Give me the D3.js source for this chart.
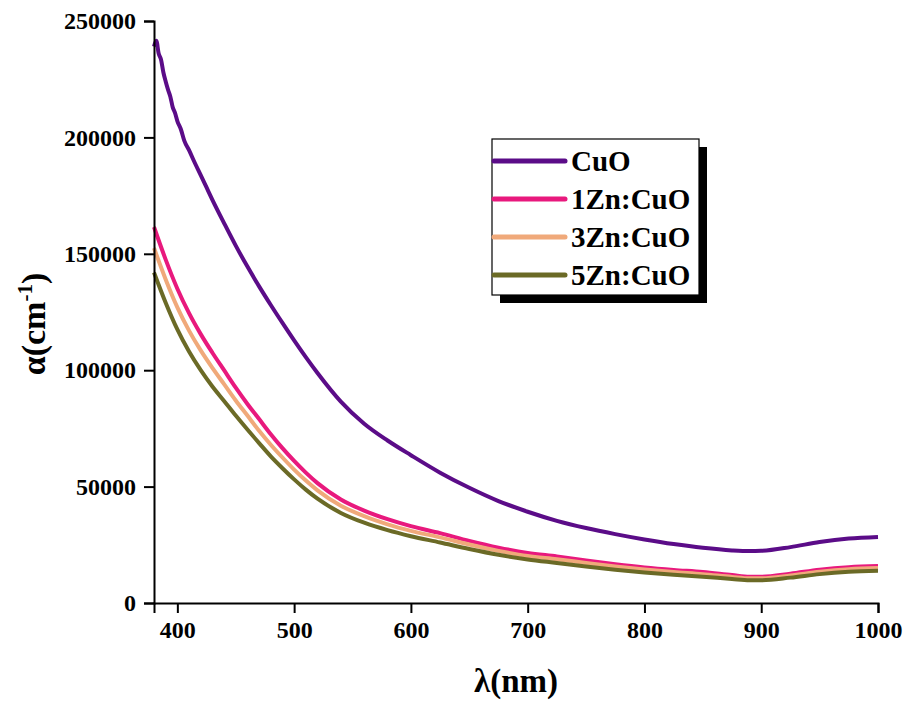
<!DOCTYPE html>
<html>
<head>
<meta charset="utf-8">
<script src="https://cdn.jsdelivr.net/npm/d3@7"></script>
<style>
  body { margin: 0; background: #fff; }
  svg { display: block; }
  text { font-family: "Liberation Serif", "Times New Roman", serif; font-weight: bold; fill: #000; }
</style>
</head>
<body>
<div id="chart"></div>
<script>
// wavelengths (nm) for the CuO spectrum, denser at the noisy start
var cuoWavelengths = [380, 382, 384, 386, 388, 390, 392, 394, 396, 398, 400, 403, 406, 410, 415, 420, 425, 430,
  440, 450, 460, 470, 480, 490, 500, 510, 520, 540, 560, 580, 600, 625, 650, 675, 700, 725, 750, 775, 800,
  825, 850, 875, 890, 900, 925, 950, 975, 1000];
var cuo = [239000, 241500, 236000, 233500, 228000, 224000, 220500, 217500, 213000, 210500, 207000, 203500, 198500,
  194500, 189000, 183800, 178500, 173200, 163200, 153500, 144500, 136000, 128000, 120300, 112800, 105600, 98800,
  86500, 77000, 69800, 63500, 56000, 49500, 43800, 39200, 35300, 32200, 29600, 27300, 25300, 23700, 22600,
  22300, 22400, 24000, 26200, 27700, 28400];

// wavelengths (nm) for the Zn doped samples
var wavelengths = [380, 390, 400, 410, 420, 430, 440, 450, 460, 470, 480, 490, 500, 510, 520, 540, 560, 580, 600,
  625, 650, 675, 700, 725, 750, 775, 800, 825, 850, 875, 890, 900, 925, 950, 975, 1000];
var zn1 = [161500, 147500, 135000, 124500, 115500, 107500, 100000, 92500, 85500, 79000, 72500, 66500, 61000, 56000,
  51500, 44500, 39700, 36000, 33000, 30000, 26700, 23800, 21500, 20000, 18300, 16700, 15300, 14200, 13300, 12000,
  11300, 11300, 12600, 14300, 15400, 15900];
var zn3 = [152500, 139000, 127000, 117000, 108500, 101000, 94000, 87000, 80500, 74000, 68000, 62500, 57300, 52600,
  48400, 41800, 37300, 33800, 31000, 28200, 25100, 22400, 20200, 18800, 17200, 15700, 14400, 13300, 12400, 11200,
  10600, 10600, 11800, 13400, 14500, 15000];
var zn5 = [142000, 129000, 117500, 108000, 100000, 93000, 86800, 80500, 74500, 68700, 63000, 57900, 53100, 48700,
  44800, 38700, 34500, 31300, 28700, 26000, 23200, 20700, 18700, 17200, 15700, 14300, 13100, 12100, 11300, 10300,
  9800, 9800, 10900, 12400, 13400, 13900];

var seriesNames = ["CuO", "1Zn:CuO", "3Zn:CuO", "5Zn:CuO"];
var seriesColors = ["#5b0c88", "#e8197d", "#f0a97a", "#6b6a26"];

var xTicks = [400, 500, 600, 700, 800, 900, 1000];
var yTicks = [0, 50000, 100000, 150000, 200000, 250000];

var width = 905, height = 710;
var margin = { left: 154, right: 27, top: 21, bottom: 107 };

var svg = d3.select("#chart").append("svg")
  .attr("width", width)
  .attr("height", height);

var x = d3.scaleLinear().domain([380, 1000]).range([margin.left, width - margin.right]);
var y = d3.scaleLinear().domain([0, 250000]).range([height - margin.bottom, margin.top]);

var series = [
  { name: seriesNames[0], color: seriesColors[0], xs: cuoWavelengths, ys: cuo },
  { name: seriesNames[1], color: seriesColors[1], xs: wavelengths, ys: zn1 },
  { name: seriesNames[2], color: seriesColors[2], xs: wavelengths, ys: zn3 },
  { name: seriesNames[3], color: seriesColors[3], xs: wavelengths, ys: zn5 }
];

var line = d3.line()
  .x(function(d) { return x(d[0]); })
  .y(function(d) { return y(d[1]); })
  .curve(d3.curveMonotoneX);

svg.append("g")
  .selectAll("path")
  .data(series)
  .enter().append("path")
  .attr("fill", "none")
  .attr("stroke", function(d) { return d.color; })
  .attr("stroke-width", 4)
  .attr("stroke-linejoin", "round")
  .attr("d", function(d) { return line(d.xs.map(function(v, i) { return [v, d.ys[i]]; })); });

// minor ticks first, majors on top
var xAxisG = svg.append("g").attr("transform", "translate(0," + y(0) + ")");
xAxisG.call(d3.axisBottom(x).tickValues(d3.range(450, 1000, 100)).tickSize(5).tickFormat(""));
xAxisG.call(d3.axisBottom(x).tickValues(xTicks).tickSize(10).tickPadding(8).tickFormat(d3.format("d")));

var yAxisG = svg.append("g").attr("transform", "translate(" + x(380) + ",0)");
yAxisG.call(d3.axisLeft(y).tickValues(d3.range(25000, 250000, 50000)).tickSize(5).tickFormat(""));
yAxisG.call(d3.axisLeft(y).tickValues(yTicks).tickSize(10).tickPadding(8).tickFormat(d3.format("d")));

svg.selectAll(".domain").attr("stroke", "#000").attr("stroke-width", 2);
svg.selectAll(".tick line").attr("stroke", "#000").attr("stroke-width", 2);
svg.selectAll(".tick text")
  .style("font-family", '"Liberation Serif", "Times New Roman", serif')
  .style("font-weight", "bold")
  .style("font-size", "24px")
  .attr("fill", "#000");

// axis titles
svg.append("text")
  .attr("x", (x(380) + x(1000)) / 2)
  .attr("y", 692)
  .attr("text-anchor", "middle")
  .style("font-size", "33px")
  .text("\u03bb(nm)");

var yTitle = svg.append("text")
  .attr("transform", "translate(45," + ((y(0) + y(250000)) / 2 + 12) + ") rotate(-90)")
  .attr("text-anchor", "middle")
  .style("font-size", "34px");
yTitle.append("tspan").text("\u03b1(cm");
yTitle.append("tspan").attr("dy", -13).style("font-size", "21px").text("-1");
yTitle.append("tspan").attr("dy", 13).text(")");

// legend with drop shadow
var legend = svg.append("g").attr("transform", "translate(492,139)");
legend.append("rect")
  .attr("x", 8).attr("y", 8)
  .attr("width", 207).attr("height", 156)
  .attr("fill", "#000");
legend.append("rect")
  .attr("width", 207).attr("height", 156)
  .attr("fill", "#fff")
  .attr("stroke", "#000")
  .attr("stroke-width", 1.2);

var item = legend.selectAll("g.item")
  .data(series)
  .enter().append("g")
  .attr("class", "item")
  .attr("transform", function(d, i) { return "translate(0," + (22 + i * 38) + ")"; });

item.append("line")
  .attr("x1", 2).attr("x2", 73)
  .attr("stroke", function(d) { return d.color; })
  .attr("stroke-width", 5)
  .attr("stroke-linecap", "round");

item.append("text")
  .attr("x", 79)
  .attr("dy", "0.35em")
  .style("font-size", "29px")
  .text(function(d) { return d.name; });
</script>
</body>
</html>
